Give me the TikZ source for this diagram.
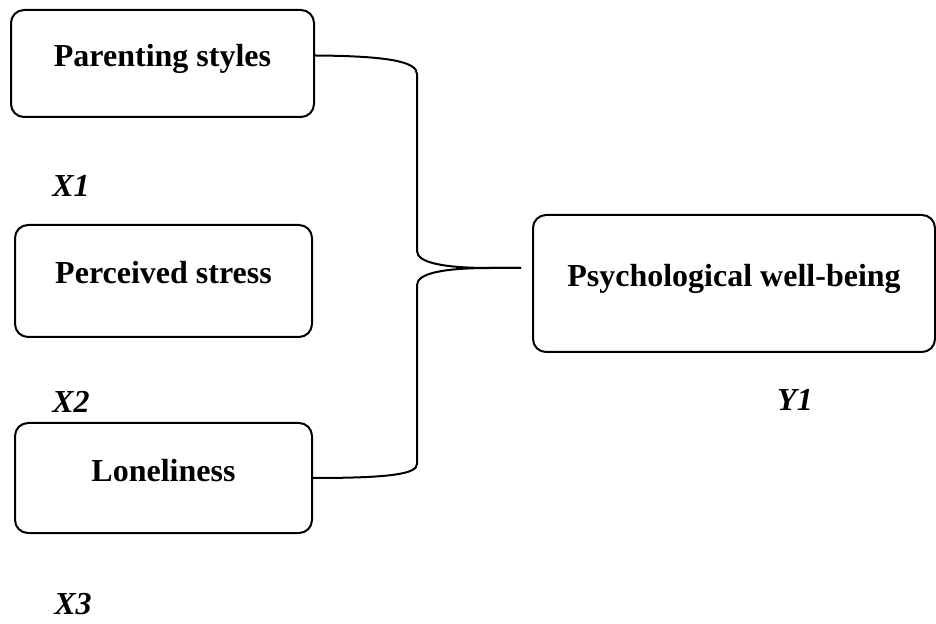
\documentclass[tikz,border=0pt]{standalone}
\usepackage{fontspec}
\setmainfont{Liberation Serif}
\usepackage{tikz}

\tikzset{
	varbox/.style={draw, black, line width=1pt, rounded corners=6.5pt, align=center,
		font=\fontsize{16}{19}\selectfont\bfseries, text height=11pt, text depth=8pt},
	varlabel/.style={font=\fontsize{16}{19}\selectfont\bfseries\itshape},
	link/.style={line width=1pt, black}
}

\begin{document}
\begin{tikzpicture}[x=0.5pt, y=-0.5pt]
				\useasboundingbox (0,0) rectangle (936,624);
				% les variables
				\node[varbox, minimum width=151.5pt, minimum height=53.5pt] (par) at (162.5,63.5) {Parenting styles};
				\node[varbox, minimum width=148.5pt, minimum height=56pt] (per) at (163.5,281) {Perceived stress};
				\node[varbox, minimum width=148.5pt, minimum height=55pt] (lon) at (163.5,478) {Loneliness};
				\node[varbox, minimum width=201pt, minimum height=68.5pt] (psy) at (734,283.5) {Psychological well-being};
				\node[varlabel] (x1) at (71,186) {X1};
				\node[varlabel] (x2) at (71,402) {X2};
				\node[varlabel] (x3) at (73,604) {X3};
				\node[varlabel] (y1) at (795,400) {Y1};
				% accolade
				\coordinate (tip) at (521,268);
				\draw[link] ([yshift=4pt]par.east) .. controls (390,56) and (417,62) .. (417,74) -- (417,251)
					.. controls (417,263) and (445,268) .. (490,268) -- (tip);
				\draw[link] (tip) -- (490,268) .. controls (445,268) and (417,273) .. (417,285) -- (417,464)
					.. controls (417,474) and (390,478) .. (lon.east);
				\end{tikzpicture}
\end{document}
